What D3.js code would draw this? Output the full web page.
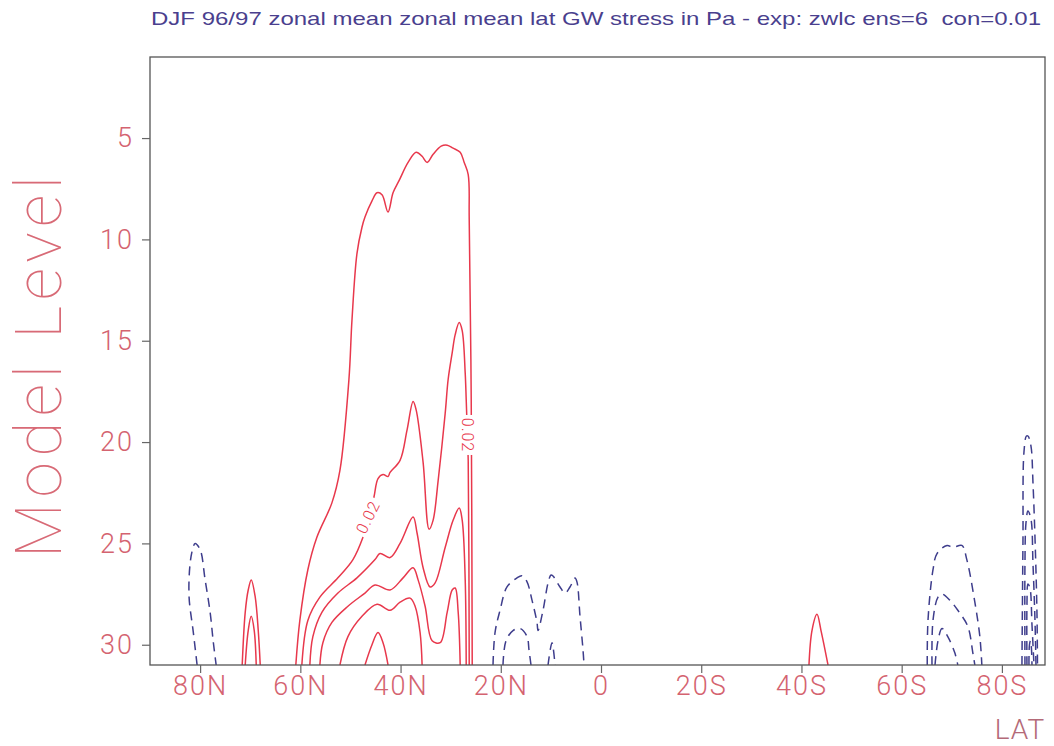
<!DOCTYPE html>
<html>
<head>
<meta charset="utf-8">
<script src="https://cdn.jsdelivr.net/npm/d3@7"></script>
<style>
  body { margin: 0; background: #fff; }
  .tick text { font-family: Roboto, "DejaVu Sans", sans-serif; font-weight: 300; }
</style>
</head>
<body>
<svg id="chart" width="1054" height="746"></svg>
<script>
// ---- data ----
var titleText = "DJF 96/97 zonal mean zonal mean lat GW stress in Pa - exp: zwlc ens=6  con=0.01";

var latTicks = [80, 60, 40, 20, 0, -20, -40, -60, -80];
var latLabels = ["80N", "60N", "40N", "20N", "0", "20S", "40S", "60S", "80S"];
var levelTicks = [5, 10, 15, 20, 25, 30];

// positive contours (solid red), points as [lat, model level]
var mainC1 = [[60.9,31],[60.1,28.8],[58.5,26.3],[56.7,24.7],[53.7,23.0],[52.1,21.4],[50.3,16.9],[49.7,14.0],
  [48.7,10.7],[47.7,9.4],[47.1,8.9],[45.7,8.1],[44.7,7.7],[43.7,7.8],[42.5,8.65],[41.5,7.7],[40.3,7.1],
  [38.5,6.2],[36.9,5.7],[35.7,5.9],[34.7,6.2],[33.5,5.8],[31.9,5.4],[30.7,5.35],[29.5,5.5],[28.1,5.7],
  [27.3,6.2],[26.5,6.8],[26.3,9.0],[25.9,17.9],[25.7,31]];
var mainC2 = [[59.7,31],[58.5,28.8],[56.1,27.65],[52.5,26.7],[49.5,25.8],[47.5,24.7],[46.3,23.7],[45.3,22.7],
  [44.5,21.8],[43.5,21.6],[42.5,21.7],[42.1,21.5],[40.1,20.9],[38.7,19.4],[37.5,18.0],[36.9,18.4],[35.5,21.0],
  [34.3,24.3],[33.5,23.85],[32.5,21.9],[31.1,18.6],[30.5,16.9],[29.7,15.6],[29.1,14.7],[28.3,14.1],[27.7,14.5],
  [27.1,16.6],[26.9,17.9],[26.7,19.4],[26.5,20.9],[26.3,31]];
var mainC3 = [[58.1,31],[57.5,29.6],[55.7,28.4],[52.5,27.45],[48.7,26.7],[45.1,25.8],[44.1,25.5],[42.1,25.7],
  [40.1,25.0],[37.5,23.7],[36.7,24.5],[35.5,26.2],[34.1,27.15],[33.1,26.95],[31.1,25.2],[29.5,23.85],[28.3,23.25],
  [27.7,23.85],[27.1,26.8],[26.9,31]];
var mainC4 = [[56.1,31],[55.5,29.9],[53.7,28.9],[50.5,28.1],[47.1,27.45],[45.1,27.05],[42.1,27.3],[39.5,26.7],
  [37.5,26.2],[36.5,26.8],[35.1,28.1],[33.7,29.8],[32.1,29.9],[30.7,28.4],[29.7,27.3],[29.1,27.2],[28.5,28.4],[28.1,31]];
var mainC5 = [[52.1,31],[50.5,29.6],[47.7,28.6],[44.7,28.0],[42.1,28.3],[40.1,27.9],[38.1,27.7],[37.1,28.1],[36.1,29.4],[35.7,31]];
var mainC6 = [[47.1,31],[45.7,30.0],[44.5,29.4],[43.5,29.9],[42.5,31]];
var polarN1 = [[71.6,31],[71.0,28.4],[70.4,27.3],[69.8,26.8],[69.0,27.65],[68.4,29.3],[68.0,31]];
var polarN2 = [[71.0,31],[70.4,29.3],[69.8,28.6],[69.2,29.3],[68.8,31]];
var south40 = [[-41.5,31],[-42.1,29.3],[-43.1,28.5],[-43.9,29.3],[-45.3,31]];

// negative contours (dashed blue)
var neg80N = [[80.6,31],[81.4,29.3],[82.2,27.65],[82.0,26.0],[81.4,25.2],[81.0,25.0],[80.0,25.3],[79.0,26.8],[78.0,28.4],[77.4,29.8],[76.8,31]];
var negEqA = [[21.55,31],[21.15,29.4],[20.15,28.3],[18.76,27.15],[16.76,26.7],[15.76,26.6],[14.76,26.9],[13.77,27.8],
  [12.77,28.9],[12.57,29.3],[11.57,28.3],[10.57,26.95],[9.98,26.56],[9.58,26.61],[8.18,27.15],[7.18,27.45],[6.19,27.15],
  [5.19,26.71],[4.79,26.91],[4.19,28.6],[3.59,30.26],[3.39,31]];
var negEqB = [[19.56,31],[18.96,29.8],[17.56,29.3],[16.16,29.2],[14.76,29.6],[14.37,30.26],[13.97,31]];
var negEqC = [[10.57,31],[9.78,29.9],[9.18,31]];
var neg65S1 = [[-65.1,31],[-65.25,28.8],[-66.25,26.3],[-67.05,25.5],[-69.05,25.1],[-70.24,25.2],[-72.0,25.1],[-73.0,25.8],[-74.6,27.9],[-75.6,29.6],[-76.0,31]];
var neg65S2 = [[-66.05,31],[-66.25,28.8],[-67.25,27.65],[-68.05,27.5],[-69.6,27.8],[-71.2,28.3],[-73.2,29.1],[-74.2,30.4],[-74.6,31]];
var neg65S3 = [[-66.65,31],[-67.25,29.8],[-68.05,29.2],[-69.2,29.6],[-70.6,30.4],[-71.2,31]];
var neg85S1 = [[-84.0,31],[-84.2,25.0],[-84.4,20.5],[-84.9,19.7],[-85.2,19.7],[-85.8,20.2],[-86.2,22.0],[-86.7,25.5],[-87.0,28.5],[-87.1,31]];
var neg85S2 = [[-84.6,31],[-84.6,26.0],[-84.8,24.0],[-85.2,23.4],[-85.8,23.8],[-86.2,26.0],[-86.6,28.8],[-86.8,31]];
var neg85S3 = [[-85.0,31],[-85.0,28.0],[-85.2,27.0],[-85.6,27.2],[-86.0,29.0],[-86.4,31]];
var neg85S4 = [[-85.4,31],[-85.5,30.0],[-85.7,29.8],[-85.9,30.2],[-86.0,31]];

var posLines = [mainC1, mainC2, mainC3, mainC4, mainC5, mainC6, polarN1, polarN2, south40];
var negLines = [neg80N, negEqA, negEqB, negEqC, neg65S1, neg65S2, neg65S3, neg85S1, neg85S2, neg85S3, neg85S4];

// contour labels
var labelText = ["0.02", "0.02"];
var labelLat = [46.5, 26.7];
var labelLevel = [23.7, 19.65];
var labelAngle = [-64, 90];

// ---- drawing ----
var margin = {left: 150, top: 57, right: 9, bottom: 81};
var W = 1054, H = 746;
var svg = d3.select("#chart");

var x = d3.scaleLinear().domain([90, -88.6]).range([margin.left, W - margin.right]);
var y = d3.scaleLinear().domain([1, 31]).range([margin.top, H - margin.bottom]);

var red = "#e8384c", blue = "#3e3d8c", tickCol = "#d46370";

svg.append("defs").append("clipPath").attr("id", "plotclip")
  .append("rect")
    .attr("x", x.range()[0]).attr("y", y.range()[0])
    .attr("width", x.range()[1] - x.range()[0])
    .attr("height", y.range()[1] - y.range()[0]);

var line = d3.line()
  .x(d => x(d[0]))
  .y(d => y(d[1]))
  .curve(d3.curveCatmullRom.alpha(0.5));

var plot = svg.append("g").attr("clip-path", "url(#plotclip)");

plot.selectAll(".pos")
    .data(posLines)
  .enter().append("path")
    .attr("class", "pos")
    .attr("d", line)
    .attr("fill", "none")
    .attr("stroke", red)
    .attr("stroke-width", 1.5);

plot.selectAll(".neg")
    .data(negLines)
  .enter().append("path")
    .attr("class", "neg")
    .attr("d", line)
    .attr("fill", "none")
    .attr("stroke", blue)
    .attr("stroke-width", 1.5)
    .attr("stroke-dasharray", "9,6");

// inline contour labels, white box makes the gap in the line
var lab = plot.selectAll(".clab")
    .data(labelText)
  .enter().append("g")
    .attr("class", "clab")
    .attr("transform", (d, i) => "translate(" + x(labelLat[i]) + "," + y(labelLevel[i]) + ") rotate(" + labelAngle[i] + ")");
lab.append("rect")
    .attr("x", -20).attr("y", -6).attr("width", 40).attr("height", 12)
    .attr("fill", "#fff");
lab.append("text")
    .attr("text-anchor", "middle")
    .attr("dy", "0.35em")
    .attr("font-family", "Roboto, sans-serif")
    .attr("font-weight", 300)
    .attr("font-size", 16)
    .attr("letter-spacing", 1)
    .attr("fill", red)
    .text(d => d);

// frame
svg.append("rect")
    .attr("x", x.range()[0]).attr("y", y.range()[0])
    .attr("width", x.range()[1] - x.range()[0])
    .attr("height", y.range()[1] - y.range()[0])
    .attr("fill", "none")
    .attr("stroke", "#555")
    .attr("stroke-width", 1.3);

// axes
var xAxis = svg.append("g")
    .attr("transform", "translate(0," + y.range()[1] + ")")
    .call(d3.axisBottom(x).tickValues(latTicks).tickSize(8).tickPadding(3)
      .tickFormat((d, i) => latLabels[i]));
var yAxis = svg.append("g")
    .attr("transform", "translate(" + x.range()[0] + ",0)")
    .call(d3.axisLeft(y).tickValues(levelTicks).tickSize(8).tickPadding(8));

[xAxis, yAxis].forEach(g => {
  g.select(".domain").remove();
  g.selectAll(".tick line").attr("stroke", "#666").attr("stroke-width", 1.2);
  g.selectAll(".tick text").attr("fill", tickCol).attr("font-size", 27).attr("letter-spacing", 2);
});

// titles
svg.append("text")
    .attr("x", 151).attr("y", 25)
    .style("white-space", "pre")
    .attr("font-family", "'Liberation Sans', Arial, sans-serif")
    .attr("font-size", 19)
    .attr("fill", "#4a3f8e")
    .attr("textLength", 890)
    .attr("lengthAdjust", "spacingAndGlyphs")
    .text(titleText);

svg.append("text")
    .attr("transform", "translate(61,367) rotate(-90)")
    .attr("text-anchor", "middle")
    .attr("font-family", "Roboto, sans-serif")
    .attr("font-weight", 100)
    .attr("font-size", 64)
    .attr("textLength", 382)
    .attr("lengthAdjust", "spacing")
    .attr("fill", "#d86a76")
    .text("Model Level");

svg.append("text")
    .attr("x", 1020).attr("y", 739)
    .attr("text-anchor", "middle")
    .attr("font-family", "Roboto, sans-serif")
    .attr("font-weight", 300)
    .attr("font-size", 28)
    .attr("letter-spacing", 1)
    .attr("fill", "#b46a78")
    .text("LAT");
</script>
</body>
</html>
